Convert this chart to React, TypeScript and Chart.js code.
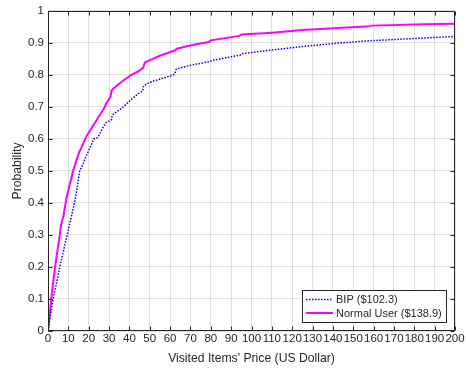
import { useEffect, useRef } from 'react';
import { Chart, registerables } from 'chart.js';

Chart.register(...registerables);

const bipPrice = [0, 1.2, 2.5, 4.2, 5.8, 7.6, 9.4, 11.2, 13, 14.4, 15.6, 17.4, 19, 20.8, 22.5, 24.6, 26.5, 28.3, 31.2, 31.6, 34, 37, 40, 43.5, 46.5, 47, 50, 55, 61.6, 62.4, 63, 70, 79.7, 80.5, 94.4, 95, 110, 125.6, 142, 158.5, 175, 189.7, 200];
const bipProb = [0, 0.05, 0.1, 0.15, 0.2, 0.25, 0.3, 0.35, 0.4, 0.45, 0.5, 0.525, 0.55, 0.575, 0.6, 0.605, 0.63, 0.65, 0.66, 0.675, 0.686, 0.7, 0.718, 0.737, 0.75, 0.766, 0.777, 0.787, 0.8, 0.805, 0.818, 0.83, 0.842, 0.845, 0.862, 0.866, 0.878, 0.889, 0.899, 0.907, 0.912, 0.917, 0.92];

const normalPrice = [0, 0.8, 1.6, 2.5, 3.5, 4.6, 5.8, 6.4, 7.6, 8.4, 9.2, 10.4, 11.6, 12.3, 13.8, 15.4, 16.2, 17.6, 18.6, 20.5, 23, 25, 27.5, 28.5, 30.7, 31.3, 33, 36, 41, 44, 46.8, 47.6, 55, 62.5, 63.3, 72, 79, 80, 94, 95, 110, 125, 140, 158, 159, 185, 200];
const normalProb = [0, 0.05, 0.1, 0.15, 0.2, 0.25, 0.3, 0.33, 0.36, 0.39, 0.42, 0.45, 0.48, 0.5, 0.53, 0.56, 0.57, 0.59, 0.605, 0.625, 0.65, 0.67, 0.695, 0.71, 0.732, 0.752, 0.762, 0.778, 0.8, 0.81, 0.823, 0.839, 0.86, 0.877, 0.882, 0.895, 0.903, 0.908, 0.922, 0.926, 0.932, 0.94, 0.946, 0.952, 0.954, 0.958, 0.96];

const xTickLabels = ['0', '10', '20', '30', '40', '50', '60', '70', '80', '90', '100', '110', '120', '130', '140', '150', '160', '170', '180', '190', '200'];
const yTickLabels = ['0', '0.1', '0.2', '0.3', '0.4', '0.5', '0.6', '0.7', '0.8', '0.9', '1'];
const seriesLabels = ['BIP ($102.3)', 'Normal User ($138.9)'];
const xTitle = "Visited Items' Price (US Dollar)";
const yTitle = 'Probability';

const FONT = '"Liberation Sans", Arial, Helvetica, sans-serif';
const TEXT = '#262626';

const matlabPlugin = {
  id: 'matlabBox',
  afterDatasetsDraw(chart: any) {
    const { ctx, chartArea: a, scales } = chart;
    const L = Math.round(a.left) + 0.5;
    const R = Math.round(a.right) - 0.5;
    const T = Math.round(a.top) + 0.5;
    const B = Math.round(a.bottom) - 0.5;
    ctx.save();
    ctx.strokeStyle = TEXT;
    ctx.lineWidth = 1;
    ctx.setLineDash([]);
    ctx.beginPath();
    ctx.rect(L, T, R - L, B - T);
    const tl = 4;
    scales.x.ticks.forEach((t: any) => {
      const px = Math.round(scales.x.getPixelForValue(t.value)) + 0.5;
      ctx.moveTo(px, B); ctx.lineTo(px, B - tl);
      ctx.moveTo(px, T); ctx.lineTo(px, T + tl);
    });
    scales.y.ticks.forEach((t: any) => {
      const py = Math.round(scales.y.getPixelForValue(t.value)) + 0.5;
      ctx.moveTo(L, py); ctx.lineTo(L + tl, py);
      ctx.moveTo(R, py); ctx.lineTo(R - tl, py);
    });
    ctx.stroke();

    // legend
    const lx = 302.5, ly = 290.5, lw = 144, lh = 32;
    ctx.fillStyle = '#ffffff';
    ctx.fillRect(lx, ly, lw, lh);
    ctx.strokeRect(lx, ly, lw, lh);
    ctx.font = `11px ${FONT}`;
    ctx.textBaseline = 'middle';
    ctx.textAlign = 'left';
    chart.data.datasets.forEach((ds: any, i: number) => {
      const cy = 299.5 + i * 13.5;
      ctx.save();
      ctx.strokeStyle = ds.borderColor;
      ctx.lineWidth = ds.borderWidth;
      ctx.setLineDash(ds.borderDash || []);
      ctx.beginPath();
      ctx.moveTo(306, cy);
      ctx.lineTo(333, cy);
      ctx.stroke();
      ctx.restore();
      ctx.fillStyle = TEXT;
      ctx.fillText(ds.label, 336, cy + 0.5);
    });
    ctx.restore();
  },
};

export default function App() {
  const ref = useRef<HTMLCanvasElement | null>(null);
  useEffect(() => {
    document.body.style.margin = '0';
    const canvas = ref.current!;
    const chart = new Chart(canvas, {
      type: 'line',
      data: {
        datasets: [
          {
            label: seriesLabels[0],
            data: bipPrice.map((x, i) => ({ x, y: bipProb[i] })),
            borderColor: '#0000ff',
            borderWidth: 1.5,
            borderDash: [1.5, 1.5],
            pointRadius: 0,
            tension: 0,
            fill: false,
          },
          {
            label: seriesLabels[1],
            data: normalPrice.map((x, i) => ({ x, y: normalProb[i] })),
            borderColor: '#ff00ff',
            borderWidth: 2,
            pointRadius: 0,
            tension: 0,
            fill: false,
          },
        ],
      },
      options: {
        animation: false,
        responsive: false,
        devicePixelRatio: 1,
        layout: { padding: { top: 10, right: 11, left: 0, bottom: 0 } },
        plugins: { legend: { display: false }, tooltip: { enabled: false } },
        scales: {
          x: {
            type: 'linear',
            min: 0,
            max: 200,
            afterFit: (s: any) => { s.height = 40; },
            ticks: {
              stepSize: 10,
              autoSkip: false,
              maxRotation: 0,
              padding: 1,
              color: TEXT,
              font: { family: FONT, size: 11.5 },
              callback: (v: any) => xTickLabels[Math.round(Number(v) / 10)],
            },
            grid: { color: 'rgba(0,0,0,0.12)', lineWidth: 1, drawTicks: false },
            border: { display: false },
            title: {
              display: true,
              text: xTitle,
              color: TEXT,
              font: { family: FONT, size: 12.2 },
              padding: { top: 0, bottom: 5.5 },
            },
          },
          y: {
            type: 'linear',
            min: 0,
            max: 1,
            afterFit: (s: any) => { s.width = 48; },
            ticks: {
              stepSize: 0.1,
              autoSkip: false,
              padding: 4,
              color: TEXT,
              font: { family: FONT, size: 11.5 },
              callback: (v: any) => yTickLabels[Math.round(Number(v) * 10)],
            },
            grid: { color: 'rgba(0,0,0,0.12)', lineWidth: 1, drawTicks: false },
            border: { display: false },
            title: {
              display: true,
              text: yTitle,
              color: TEXT,
              font: { family: FONT, size: 12.2 },
              padding: { top: 10, bottom: 0 },
            },
          },
        },
      },
      plugins: [matlabPlugin],
    } as any);
    return () => chart.destroy();
  }, []);
  return <canvas ref={ref} width={466} height={371} style={{ display: 'block' }} />;
}
